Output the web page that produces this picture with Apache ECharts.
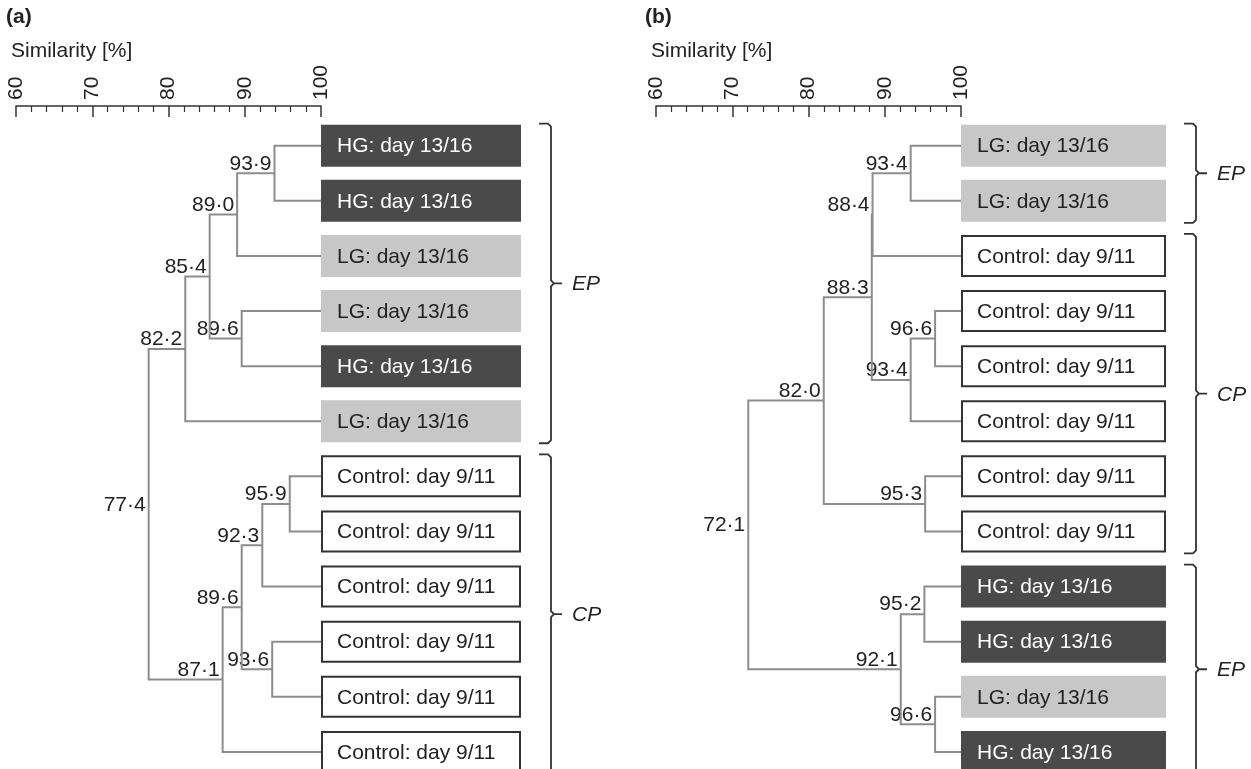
<!DOCTYPE html>
<html>
<head>
<meta charset="utf-8">
<title>Similarity dendrograms</title>
<script src="https://cdn.jsdelivr.net/npm/echarts@6/dist/echarts.min.js"></script>
<style>
  html, body { margin: 0; padding: 0; background: #fff; }
  #chart { width: 1251px; height: 769px; }
</style>
</head>
<body>
<div id="chart"></div>
<script>
// ---- data ----
const tickLabels = [60, 70, 80, 90, 100];

// panel (a): leaves top to bottom, group of each leaf
const leavesA = ['HG: day 13/16', 'HG: day 13/16', 'LG: day 13/16', 'LG: day 13/16', 'HG: day 13/16', 'LG: day 13/16',
  'Control: day 9/11', 'Control: day 9/11', 'Control: day 9/11', 'Control: day 9/11', 'Control: day 9/11', 'Control: day 9/11'];
const groupsA = ['HG', 'HG', 'LG', 'LG', 'HG', 'LG', 'C', 'C', 'C', 'C', 'C', 'C'];
// merge nodes: similarity and the two things they join (L = leaf, N = node)
const simA = [93.9, 89.0, 89.6, 85.4, 82.2, 95.9, 92.3, 93.6, 89.6, 87.1, 77.4];
const kidsA = [['L0', 'L1'], ['N0', 'L2'], ['L3', 'L4'], ['N1', 'N2'], ['N3', 'L5'],
  ['L6', 'L7'], ['N5', 'L8'], ['L9', 'L10'], ['N6', 'N7'], ['N8', 'L11'], ['N4', 'N9']];
const bracketsA = [['EP', 0, 5], ['CP', 6, 11]];

// panel (b)
const leavesB = ['LG: day 13/16', 'LG: day 13/16', 'Control: day 9/11', 'Control: day 9/11', 'Control: day 9/11',
  'Control: day 9/11', 'Control: day 9/11', 'Control: day 9/11', 'HG: day 13/16', 'HG: day 13/16', 'LG: day 13/16', 'HG: day 13/16'];
const groupsB = ['LG', 'LG', 'C', 'C', 'C', 'C', 'C', 'C', 'HG', 'HG', 'LG', 'HG'];
const simB = [93.4, 88.4, 96.6, 93.4, 88.3, 95.3, 82.0, 95.2, 96.6, 92.1, 72.1];
const kidsB = [['L0', 'L1'], ['N0', 'L2'], ['L3', 'L4'], ['N2', 'L5'], ['N1', 'N3'],
  ['L6', 'L7'], ['N4', 'N5'], ['L8', 'L9'], ['L10', 'L11'], ['N7', 'N8'], ['N6', 'N9']];
const bracketsB = [['EP', 0, 1], ['CP', 2, 7], ['EP', 8, 11]];

// ---- helpers ----
const FONT = '"Liberation Sans", Arial, Helvetica, sans-serif';
const LEAF_X = 100;

// node position = its similarity and the middle of its two children
function treeData(sims, kids) {
  const pos = {};
  const out = [];
  const get = (id) => id[0] === 'L' ? [LEAF_X, +id.slice(1)] : pos[id];
  sims.forEach((s, i) => {
    const a = get(kids[i][0]);
    const b = get(kids[i][1]);
    const y = (a[1] + b[1]) / 2;
    pos['N' + i] = [s, y];
    out.push([s, y, a[0], a[1], b[0], b[1]]);
  });
  return out;
}

const lineStyle = { stroke: '#8d8d8d', lineWidth: 2, fill: null };

function renderTree(params, api) {
  const p = api.coord([api.value(0), api.value(1)]);
  const a = api.coord([api.value(2), api.value(3)]);
  const b = api.coord([api.value(4), api.value(5)]);
  const txt = api.value(0).toFixed(1).replace('.', '\u00b7');
  return {
    type: 'group',
    children: [
      { type: 'polyline', shape: { points: [[a[0], a[1]], [p[0], a[1]], [p[0], b[1]], [b[0], b[1]]] }, style: lineStyle },
      { type: 'text', style: { text: txt, x: p[0] - 3, y: p[1] + 1, align: 'right', verticalAlign: 'bottom',
        fontSize: 21, fontFamily: FONT, fill: '#222' } }
    ]
  };
}

function boxRenderer(leaves, groups, boxW) {
  return function (params, api) {
    const c = api.coord([api.value(0), api.value(1)]);
    const g = groups[params.dataIndex];
    let fill = '#ffffff', stroke = null, txtColor = '#222';
    if (g === 'HG') { fill = '#4a4a4a'; txtColor = '#ffffff'; }
    if (g === 'LG') { fill = '#c7c7c7'; }
    if (g === 'C') { stroke = '#333'; }
    return {
      type: 'group',
      children: [
        { type: 'rect', shape: g === 'C' ? { x: c[0] + 1, y: c[1] - 20, width: boxW - 2, height: 40 } : { x: c[0], y: c[1] - 21, width: boxW, height: 42 },
          style: { fill: fill, stroke: stroke, lineWidth: 2 } },
        { type: 'text', style: { text: leaves[params.dataIndex], x: c[0] + 16, y: c[1] + 1, verticalAlign: 'middle',
          fontSize: 21, fontFamily: FONT, fill: txtColor } }
      ]
    };
  };
}

function bracketRenderer(brackets, boxW) {
  return function (params, api) {
    const t = api.coord([api.value(0), api.value(1)]);
    const bt = api.coord([api.value(0), api.value(2)]);
    const x = t[0] + boxW + 30;
    const top = t[1] - 22;
    const bot = bt[1] + 22;
    const mid = (top + bot) / 2;
    return {
      type: 'group',
      children: [
        { type: 'polyline', shape: { points: [[x - 12, top], [x - 3, top], [x, top + 3], [x, mid - 3], [x + 3, mid], [x + 11, mid],
          [x + 3, mid], [x, mid + 3], [x, bot - 3], [x - 3, bot], [x - 12, bot]] },
          style: { stroke: '#333', lineWidth: 1.8, fill: null } },
        { type: 'text', style: { text: brackets[params.dataIndex][0], x: x + 21, y: mid + 1, verticalAlign: 'middle',
          fontSize: 21, fontStyle: 'italic', fontFamily: FONT, fill: '#222' } }
      ]
    };
  };
}

function xAxisFor(gi) {
  return {
    type: 'value', gridIndex: gi, position: 'top', min: 60, max: 100, interval: 10,
    axisLine: { show: true, onZero: false, lineStyle: { color: '#333', width: 1.5 } },
    axisTick: { show: true, inside: true, length: 11, lineStyle: { color: '#333', width: 1.5 } },
    minorTick: { show: true, splitNumber: 5, length: 6, lineStyle: { color: '#333', width: 1.2 } },
    splitLine: { show: false },
    axisLabel: { rotate: -90, margin: 6, fontSize: 21, fontFamily: FONT, color: '#222',
      formatter: (v) => tickLabels.indexOf(v) >= 0 ? String(v) : '' }
  };
}
function yAxisFor(gi) {
  return { type: 'value', gridIndex: gi, min: -0.72, max: 11.31, inverse: true, show: false };
}

const chart = echarts.init(document.getElementById('chart'));
chart.setOption({
  animation: false,
  backgroundColor: '#fff',
  title: [
    { text: '(a)', left: 6, top: 7, padding: 0, textStyle: { fontSize: 21, fontWeight: 'bold', fontFamily: FONT, color: '#222' } },
    { text: 'Similarity [%]', left: 11, top: 41, padding: 0, textStyle: { fontSize: 21, fontWeight: 'normal', fontFamily: FONT, color: '#222' } },
    { text: '(b)', left: 645, top: 7, padding: 0, textStyle: { fontSize: 21, fontWeight: 'bold', fontFamily: FONT, color: '#222' } },
    { text: 'Similarity [%]', left: 651, top: 41, padding: 0, textStyle: { fontSize: 21, fontWeight: 'normal', fontFamily: FONT, color: '#222' } }
  ],
  grid: [
    { left: 16, top: 106, width: 305, height: 663 },
    { left: 656, top: 106, width: 305, height: 663 }
  ],
  xAxis: [xAxisFor(0), xAxisFor(1)],
  yAxis: [yAxisFor(0), yAxisFor(1)],
  series: [
    { type: 'custom', xAxisIndex: 0, yAxisIndex: 0, clip: false, renderItem: renderTree, data: treeData(simA, kidsA) },
    { type: 'custom', xAxisIndex: 0, yAxisIndex: 0, clip: false, renderItem: boxRenderer(leavesA, groupsA, 200),
      data: leavesA.map((l, i) => [LEAF_X, i]) },
    { type: 'custom', xAxisIndex: 0, yAxisIndex: 0, clip: false, renderItem: bracketRenderer(bracketsA, 200),
      data: bracketsA.map((b) => [LEAF_X, b[1], b[2]]) },
    { type: 'custom', xAxisIndex: 1, yAxisIndex: 1, clip: false, renderItem: renderTree, data: treeData(simB, kidsB) },
    { type: 'custom', xAxisIndex: 1, yAxisIndex: 1, clip: false, renderItem: boxRenderer(leavesB, groupsB, 205),
      data: leavesB.map((l, i) => [LEAF_X, i]) },
    { type: 'custom', xAxisIndex: 1, yAxisIndex: 1, clip: false, renderItem: bracketRenderer(bracketsB, 205),
      data: bracketsB.map((b) => [LEAF_X, b[1], b[2]]) }
  ]
});
</script>
</body>
</html>
